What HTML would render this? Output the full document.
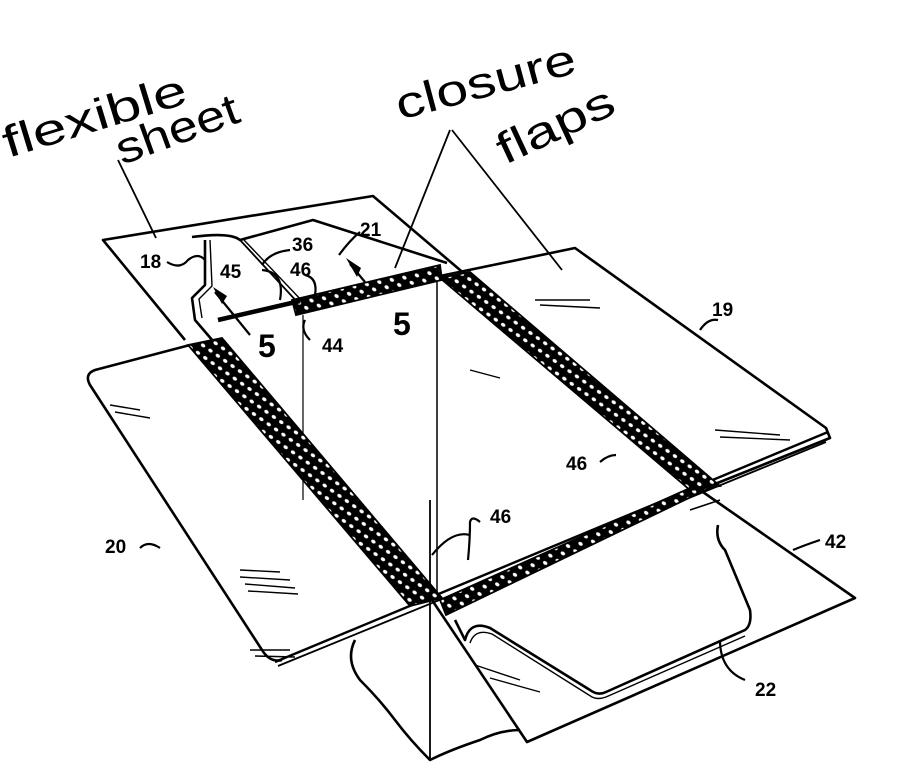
<!DOCTYPE html>
<html><head><style>
html,body{margin:0;padding:0;background:#fff;}
svg{display:block}
text{font-family:"Liberation Sans",sans-serif;fill:#000}
</style></head><body>
<svg width="910" height="772" viewBox="0 0 910 772" xmlns="http://www.w3.org/2000/svg">
<defs>
<pattern id="mesh" width="9" height="9" patternUnits="userSpaceOnUse" patternTransform="rotate(35)">
<rect width="9" height="9" fill="#000"/>
<ellipse cx="4.5" cy="4.5" rx="2.4" ry="1.7" fill="#fff"/>
</pattern>
</defs>
<g fill="none" stroke="#000" stroke-width="2.6" stroke-linejoin="round">
<polyline points="185,340 103,240 373,196 560,355"/>
<path d="M192,237 Q230,232 240,240 L313,220 L447,263"/>
<path d="M205,240 L205,285 L192,298 L195,320 L225,355"/>
<path d="M210,240 L212,286 L199,299 L202,318" stroke-width="1.4"/>
<path d="M240,240 L300,305" stroke-width="1.8"/>
<path d="M244,240 L304,303" stroke-width="1.4"/>
<polyline points="440,276 575,248 826,428 830,438 700,490"/>
<path d="M828,432 L275,662" stroke-width="2.4"/>
<path d="M826,442 L278,666" stroke-width="1.8"/>
<path d="M190,345 L95,370 Q84,374 90,385 L262,650 Q270,663 282,660"/>
<line x1="303" y1="315" x2="303" y2="500" stroke-width="1.2"/>
<line x1="437" y1="272" x2="437" y2="600" stroke-width="1.5"/>
<line x1="430" y1="500" x2="430" y2="760" stroke-width="1.8"/>
<polyline points="700,490 855,598 527,742 432,600"/>
<line x1="690" y1="510" x2="720" y2="500" stroke-width="1.6"/>
<path d="M455,620 L465,640 Q470,620 490,628 L590,690 Q598,696 606,692 L745,630 Q752,625 750,610 L725,550 Q715,540 718,525"/>
<path d="M470,643 Q475,628 492,634 L592,697 Q598,700 606,697 L745,636" stroke-width="1.4"/>
<path d="M355,640 Q345,660 360,680 Q380,700 395,720 Q410,740 430,760 Q450,750 480,740 Q500,730 520,730"/>
<line x1="118" y1="160" x2="156" y2="238" stroke-width="1.8"/>
<line x1="450" y1="130" x2="395" y2="268" stroke-width="1.8"/>
<line x1="452" y1="130" x2="562" y2="270" stroke-width="1.8"/>
<g stroke-width="1.4">
<line x1="535" y1="300" x2="590" y2="300"/><line x1="540" y1="305" x2="600" y2="308"/><line x1="715" y1="430" x2="780" y2="435"/><line x1="720" y1="437" x2="790" y2="440"/>
<line x1="240" y1="570" x2="280" y2="572"/><line x1="240" y1="577" x2="290" y2="580"/><line x1="245" y1="584" x2="295" y2="588"/><line x1="248" y1="591" x2="298" y2="594"/>
<line x1="250" y1="650" x2="290" y2="650"/><line x1="255" y1="656" x2="295" y2="657"/>
<line x1="110" y1="405" x2="140" y2="410"/><line x1="115" y1="412" x2="150" y2="418"/>
<line x1="470" y1="370" x2="500" y2="378"/><line x1="475" y1="665" x2="520" y2="680"/><line x1="490" y1="678" x2="540" y2="692"/>
</g>
</g>
<g fill="url(#mesh)" stroke="#000" stroke-width="1.8">
<polygon points="188,345 222,338 442,598 410,606"/>
<polygon points="440,600 690,488 718,484 446,615"/>
<polygon points="440,278 470,272 720,486 690,490"/>
<polygon points="292,300 440,265 442,280 296,315"/>
</g>
<line x1="218" y1="320" x2="300" y2="301" stroke="#000" stroke-width="4.5"/>
<g fill="#000"><polygon points="213,287 222,304 227,296"/><polygon points="346,258 357,277 361,268"/></g>
<g stroke="#000" stroke-width="2.2" fill="none"><line x1="215" y1="292" x2="250" y2="335"/><line x1="350" y1="264" x2="365" y2="282"/>
<path d="M167,262 Q180,270 188,260 Q198,252 205,260"/><path d="M262,270 Q285,272 280,300"/><path d="M262,265 Q270,252 290,250"/><path d="M339,255 Q350,240 360,232"/><path d="M305,275 Q318,278 315,295"/><path d="M305,320 Q300,330 310,340"/><path d="M700,330 Q708,318 718,320"/><path d="M600,462 Q608,455 616,455"/><path d="M140,548 Q148,540 160,548"/><path d="M432,555 Q452,530 470,535"/><path d="M468,560 Q470,540 470,522 Q472,515 480,522"/><path d="M793,550 Q805,545 820,540"/><path d="M745,680 Q720,670 720,640"/></g>
<g font-weight="bold" font-size="19">
<text x="140" y="268">18</text><text x="292" y="251">36</text><text x="360" y="236">21</text>
<text x="220" y="278">45</text><text x="290" y="276">46</text><text x="322" y="352">44</text>
<text x="712" y="316">19</text><text x="566" y="470">46</text><text x="105" y="553">20</text>
<text x="490" y="523">46</text><text x="825" y="548">42</text><text x="755" y="696">22</text>
</g>
<g font-weight="bold" font-size="32"><text x="258" y="357">5</text><text x="393" y="335">5</text></g>
<g font-size="44">
<text x="8" y="158" transform="rotate(-17 8 158)" textLength="190" lengthAdjust="spacingAndGlyphs">flexible</text>
<text x="122" y="165" transform="rotate(-20 122 165)" textLength="128" lengthAdjust="spacingAndGlyphs">sheet</text>
<text x="400" y="120" transform="rotate(-15 400 120)" textLength="185" lengthAdjust="spacingAndGlyphs">closure</text>
<text x="505" y="165" transform="rotate(-25 505 165)" textLength="125" lengthAdjust="spacingAndGlyphs">flaps</text>
</g>
</svg>
</body></html>
